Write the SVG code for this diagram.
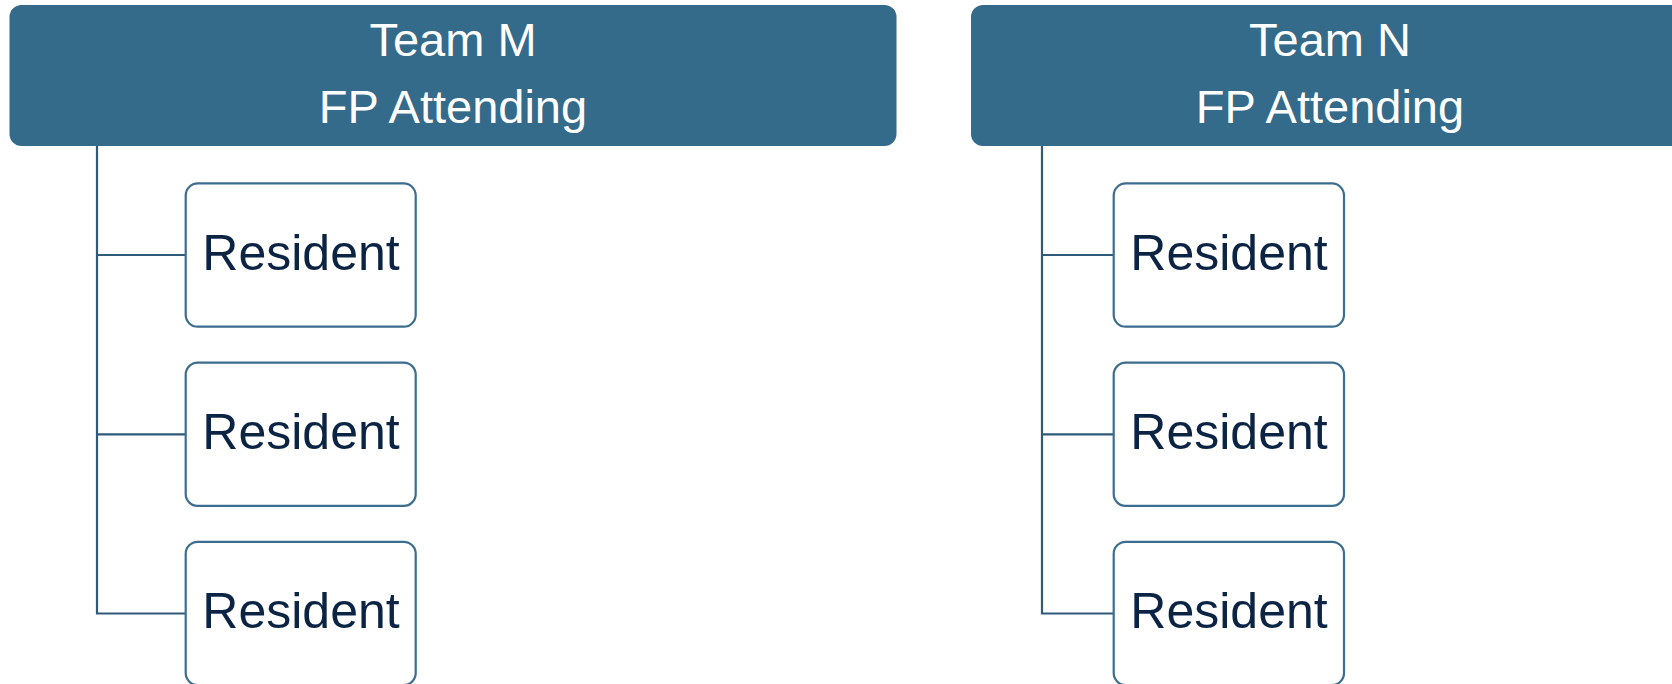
<svg xmlns="http://www.w3.org/2000/svg" width="1672" height="684" viewBox="0 0 1672 684">
  <style>
    .hdr { fill: #346a8a; }
    .hdr-text { font-family: "Liberation Sans", Arial, sans-serif; font-size: 47px; fill: #ffffff; text-anchor: middle; }
    .box { fill: #ffffff; stroke: #3b6d8f; stroke-width: 2.2; }
    .box-text { font-family: "Liberation Sans", Arial, sans-serif; font-size: 50px; fill: #0c2444; text-anchor: middle; }
    .conn { fill: none; stroke: #2f5b7a; stroke-width: 2.2; }
  </style>
  <rect width="1672" height="684" fill="#ffffff"/>

  <!-- connectors -->
  <g id="connectors">
    <path class="conn" d="M97 146 V613.5 H185.7 M97 255 H185.7 M97 434.3 H185.7"/>
    <path class="conn" d="M1042 146 V613.5 H1113.7 M1042 255 H1113.7 M1042 434.3 H1113.7"/>
  </g>

  <!-- team M -->
  <g id="team-m">
    <rect class="hdr" x="9.5" y="5" width="887" height="141" rx="12"/>
    <text class="hdr-text" x="453" y="55.7">Team M</text>
    <text class="hdr-text" x="453" y="123.3">FP Attending</text>
  </g>
  <g id="team-m-resident-1">
    <rect class="box" x="185.7" y="183.4" width="230" height="143.3" rx="12"/>
    <text class="box-text" x="301" y="270">Resident</text>
  </g>
  <g id="team-m-resident-2">
    <rect class="box" x="185.7" y="362.6" width="230" height="143.3" rx="12"/>
    <text class="box-text" x="301" y="449.2">Resident</text>
  </g>
  <g id="team-m-resident-3">
    <rect class="box" x="185.7" y="541.8" width="230" height="143.3" rx="12"/>
    <text class="box-text" x="301" y="628.4">Resident</text>
  </g>

  <!-- team N -->
  <g id="team-n">
    <rect class="hdr" x="971" y="5" width="740" height="141" rx="12"/>
    <text class="hdr-text" x="1330" y="55.7">Team N</text>
    <text class="hdr-text" x="1330" y="123.3">FP Attending</text>
  </g>
  <g id="team-n-resident-1">
    <rect class="box" x="1113.7" y="183.4" width="230.3" height="143.3" rx="12"/>
    <text class="box-text" x="1229" y="270">Resident</text>
  </g>
  <g id="team-n-resident-2">
    <rect class="box" x="1113.7" y="362.6" width="230.3" height="143.3" rx="12"/>
    <text class="box-text" x="1229" y="449.2">Resident</text>
  </g>
  <g id="team-n-resident-3">
    <rect class="box" x="1113.7" y="541.8" width="230.3" height="143.3" rx="12"/>
    <text class="box-text" x="1229" y="628.4">Resident</text>
  </g>
</svg>
